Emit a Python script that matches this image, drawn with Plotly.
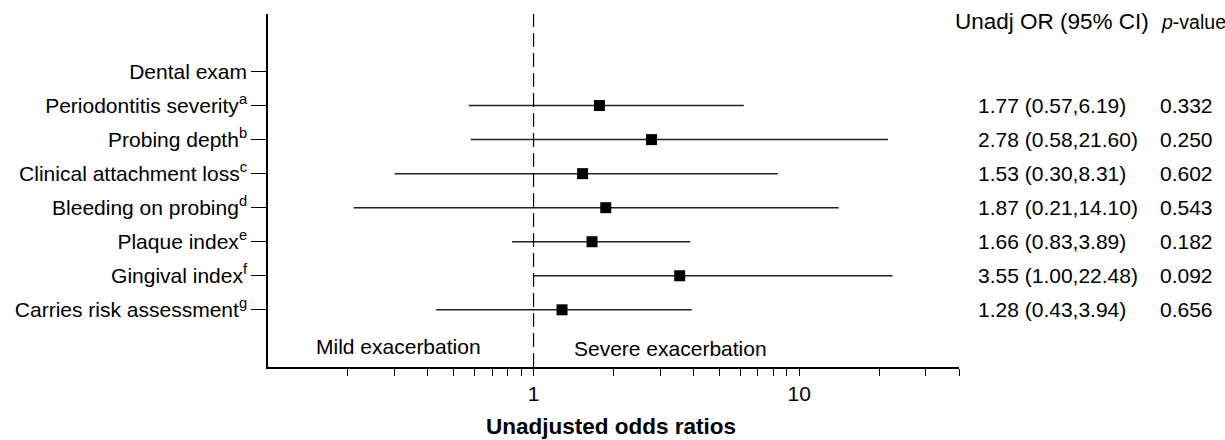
import plotly.graph_objects as go

labels = ["Dental exam", "Periodontitis severity<sup>a</sup>", "Probing depth<sup>b</sup>",
          "Clinical attachment loss<sup>c</sup>", "Bleeding on probing<sup>d</sup>",
          "Plaque index<sup>e</sup>", "Gingival index<sup>f</sup>", "Carries risk assessment<sup>g</sup>"]
rows = [8, 7, 6, 5, 4, 3, 2, 1]

# data rows (excluding the "Dental exam" header row)
data_rows = [7, 6, 5, 4, 3, 2, 1]
odds = [1.77, 2.78, 1.53, 1.87, 1.66, 3.55, 1.28]
lower = [0.57, 0.58, 0.30, 0.21, 0.83, 1.00, 0.43]
upper = [6.19, 21.60, 8.31, 14.10, 3.89, 22.48, 3.94]
pvals = [0.332, 0.250, 0.602, 0.543, 0.182, 0.092, 0.656]

xtick_vals = [0.2, 0.3, 0.4, 0.5, 0.6, 0.7, 0.8, 0.9, 1, 2, 3, 4, 5, 6, 7, 8, 9, 10, 20, 30, 40]
xtick_text = ["1" if v == 1 else ("10" if v == 10 else "") for v in xtick_vals]

FONT = "Liberation Sans, Arial, sans-serif"

fig = go.Figure()
fig.add_trace(go.Scatter(
    x=odds, y=data_rows, mode="markers",
    marker=dict(symbol="square", size=11, color="black"),
    error_x=dict(type="data", symmetric=False,
                 array=[u - o for u, o in zip(upper, odds)],
                 arrayminus=[o - l for o, l in zip(odds, lower)],
                 width=0, thickness=1.5, color="#222222"),
    showlegend=False, hoverinfo="skip",
))

shapes = [dict(type="line", xref="x", yref="paper", x0=1, x1=1, y0=0, y1=1,
               line=dict(color="black", width=1.2, dash="14px,6px"))]

annotations = []
annotations.append(dict(xref="paper", yref="y", x=0.9916, y=9.46, xanchor="left", yanchor="middle",
                        text="Unadj OR (95% CI)", showarrow=False, font=dict(size=22.5)))
annotations.append(dict(xref="paper", yref="y", x=1.289, y=9.46, xanchor="left", yanchor="middle",
                        text="<i>p</i>-value", showarrow=False, font=dict(size=19.5)))
for r, o, l, u, p in zip(data_rows, odds, lower, upper, pvals):
    annotations.append(dict(xref="paper", yref="y", x=1.025, y=r, xanchor="left", yanchor="middle",
                            text=f"{o:.2f} ({l:.2f},{u:.2f})", showarrow=False, font=dict(size=21)))
    annotations.append(dict(xref="paper", yref="y", x=1.288, y=r, xanchor="left", yanchor="middle",
                            text=f"{p:.3f}", showarrow=False, font=dict(size=21)))
annotations.append(dict(xref="paper", yref="y", x=0.311, y=-0.065, xanchor="right", yanchor="middle",
                        text="Mild exacerbation", showarrow=False, font=dict(size=21)))
annotations.append(dict(xref="paper", yref="y", x=0.4393, y=-0.141, xanchor="left", yanchor="middle",
                        text="Severe exacerbation", showarrow=False, font=dict(size=21)))
annotations.append(dict(xref="paper", yref="paper", x=0.4965, y=-0.168, xanchor="center", yanchor="middle",
                        text="<b>Unadjusted odds ratios</b>", showarrow=False, font=dict(size=22.5)))

fig.update_layout(
    width=1225, height=440, autosize=False,
    margin=dict(l=268, r=266, t=14, b=73, pad=0),
    paper_bgcolor="white", plot_bgcolor="white",
    font=dict(family=FONT, size=21, color="black"),
    shapes=shapes, annotations=annotations,
    xaxis=dict(type="log", range=[-1, 1.60206], tickmode="array",
               tickvals=xtick_vals, ticktext=xtick_text,
               ticks="outside", ticklen=7, tickwidth=1.3, tickcolor="black",
               showline=True, linecolor="black", linewidth=1.5,
               showgrid=False, zeroline=False, mirror=False,
               tickfont=dict(size=21)),
    yaxis=dict(range=[-0.68, 9.69], tickmode="array", tickvals=rows, ticktext=labels,
               ticks="outside", ticklen=15, tickwidth=1.3, tickcolor="black",
               showline=True, linecolor="black", linewidth=1.5,
               showgrid=False, zeroline=False, mirror=False,
               tickfont=dict(size=21)),
)

fig.write_html("out.html", config={"displayModeBar": False},
               post_script="document.body.style.margin='0';document.body.style.overflow='hidden';")
